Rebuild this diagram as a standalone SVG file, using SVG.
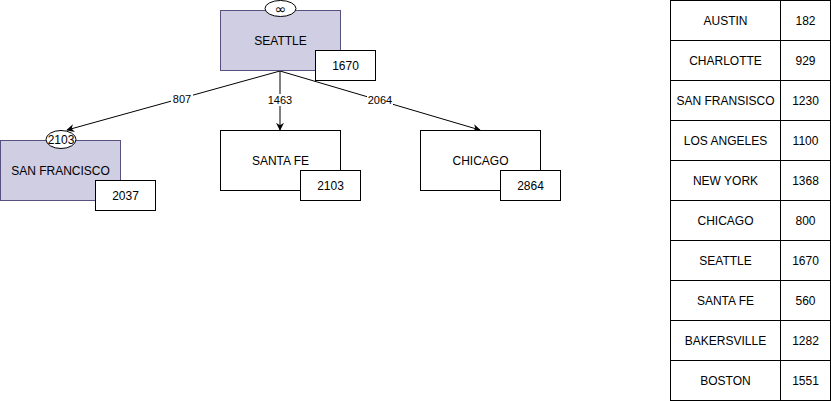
<svg xmlns="http://www.w3.org/2000/svg" width="831" height="401" viewBox="0 0 831 401">
  <style>
    text { font-family: "Liberation Sans", Arial, sans-serif; font-size: 12px; fill: #000; text-anchor: middle; dominant-baseline: central; }
    .lbl { font-size: 11px; }
    .sym { font-family: "DejaVu Sans", sans-serif; font-size: 14px; }
    .box { fill: #fff; stroke: #000; stroke-width: 1; }
    .hl { fill: #d0cee2; stroke: #56517e; stroke-width: 1; }
    .edge { fill: none; stroke: #000; stroke-width: 1; }
    .tag { fill: #fff; }
  </style>
  <defs>
    <marker id="arrow" viewBox="0 0 10 10" refX="9" refY="5" markerWidth="8" markerHeight="8" orient="auto" markerUnits="userSpaceOnUse">
      <path d="M0,0 L10,5 L0,10 L3,5 Z" fill="#000"/>
    </marker>
  </defs>
  <rect width="831" height="401" fill="#fff"/>

  <g id="connectors">
    <path class="edge" d="M280,71 L67,130" marker-end="url(#arrow)"/>
    <path class="edge" d="M280,71 L280,130" marker-end="url(#arrow)"/>
    <path class="edge" d="M280,71 L480,130" marker-end="url(#arrow)"/>
    <rect class="tag" x="171" y="93" width="22" height="12"/>
    <text class="lbl" x="182" y="99">807</text>
    <rect class="tag" x="268" y="94" width="24" height="12"/>
    <text class="lbl" x="280" y="100">1463</text>
    <rect class="tag" x="367" y="94" width="26" height="12"/>
    <text class="lbl" x="380" y="100">2064</text>
  </g>

  <g id="seattle">
    <rect class="hl" x="220.5" y="10.5" width="120" height="60"/>
    <text x="280.5" y="40.5">SEATTLE</text>
    <ellipse class="box" cx="280.5" cy="8.5" rx="15.5" ry="8"/>
    <text class="sym" x="280.5" y="9">∞</text>
    <rect class="box" x="315.5" y="50.5" width="60" height="30"/>
    <text x="345.5" y="65.5">1670</text>
  </g>

  <g id="san-francisco">
    <rect class="hl" x="0.5" y="140.5" width="120" height="60"/>
    <text x="60.5" y="170.5">SAN FRANCISCO</text>
    <ellipse class="box" cx="61" cy="139.5" rx="15" ry="9"/>
    <text x="61" y="139.5">2103</text>
    <rect class="box" x="95.5" y="180.5" width="60" height="30"/>
    <text x="125.5" y="195.5">2037</text>
  </g>

  <g id="santa-fe">
    <rect class="box" x="220.5" y="130.5" width="120" height="60"/>
    <text x="280.5" y="160.5">SANTA FE</text>
    <rect class="box" x="300.5" y="170.5" width="60" height="30"/>
    <text x="330.5" y="185.5">2103</text>
  </g>

  <g id="chicago">
    <rect class="box" x="420.5" y="130.5" width="120" height="60"/>
    <text x="480.5" y="160.5">CHICAGO</text>
    <rect class="box" x="500.5" y="170.5" width="60" height="30"/>
    <text x="530.5" y="185.5">2864</text>
  </g>

  <g id="distance-table">
    <rect class="box" x="670.5" y="0.5" width="160" height="400"/>
    <path class="edge" d="M780.5,0.5 V400.5 M670.5,40.5 H830.5 M670.5,80.5 H830.5 M670.5,120.5 H830.5 M670.5,160.5 H830.5 M670.5,200.5 H830.5 M670.5,240.5 H830.5 M670.5,280.5 H830.5 M670.5,320.5 H830.5 M670.5,360.5 H830.5"/>
    <text x="725.5" y="20.5">AUSTIN</text><text x="805.5" y="20.5">182</text>
    <text x="725.5" y="60.5">CHARLOTTE</text><text x="805.5" y="60.5">929</text>
    <text x="725.5" y="100.5">SAN FRANSISCO</text><text x="805.5" y="100.5">1230</text>
    <text x="725.5" y="140.5">LOS ANGELES</text><text x="805.5" y="140.5">1100</text>
    <text x="725.5" y="180.5">NEW YORK</text><text x="805.5" y="180.5">1368</text>
    <text x="725.5" y="220.5">CHICAGO</text><text x="805.5" y="220.5">800</text>
    <text x="725.5" y="260.5">SEATTLE</text><text x="805.5" y="260.5">1670</text>
    <text x="725.5" y="300.5">SANTA FE</text><text x="805.5" y="300.5">560</text>
    <text x="725.5" y="340.5">BAKERSVILLE</text><text x="805.5" y="340.5">1282</text>
    <text x="725.5" y="380.5">BOSTON</text><text x="805.5" y="380.5">1551</text>
  </g>
</svg>
